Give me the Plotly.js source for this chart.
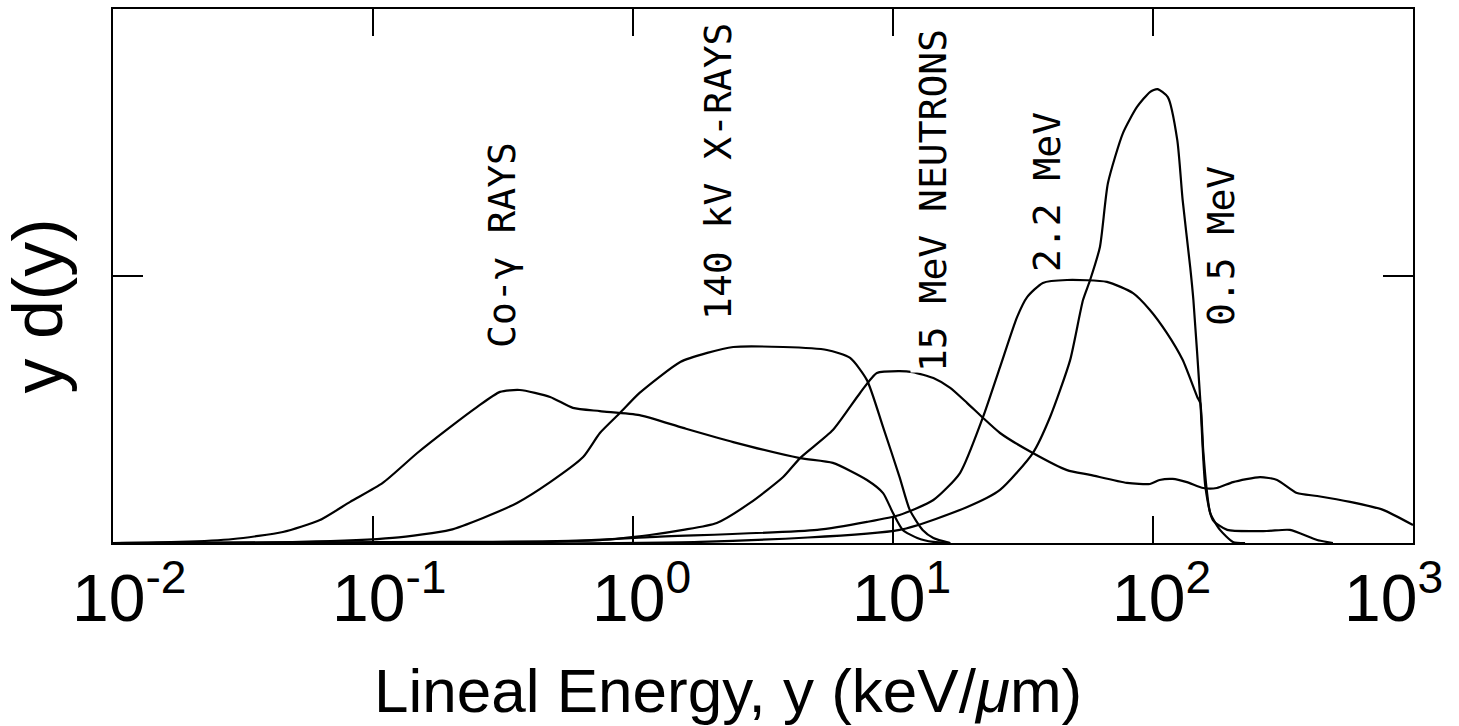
<!DOCTYPE html>
<html>
<head>
<meta charset="utf-8">
<script src="https://cdn.plot.ly/plotly-3.0.1.min.js"></script>
<style>
  html, body { margin: 0; padding: 0; background: #ffffff; }
  #chart { width: 1459px; height: 726px; }
</style>
</head>
<body>
<div id="chart"></div>
<script>
// ---- Data ----
// Lineal energy y (keV/um) and y d(y) in arbitrary units (frame top = 2, mid tick = 1)
const coGammaX = [0.01, 0.0181, 0.029, 0.045, 0.0625, 0.0817, 0.109, 0.148, 0.198, 0.251, 0.308, 0.367, 0.480, 0.587, 0.746, 1.06, 1.56, 2.43, 4.39, 5.87, 7.94, 9.16, 10.0, 10.9, 12.4, 14.3, 16.6];
const coGammaY = [0, 0.004, 0.015, 0.041, 0.086, 0.154, 0.225, 0.337, 0.434, 0.509, 0.566, 0.573, 0.547, 0.506, 0.494, 0.479, 0.431, 0.378, 0.318, 0.300, 0.236, 0.187, 0.112, 0.049, 0.019, 0.004, 0];

const xray140X = [0.01, 0.0524, 0.119, 0.198, 0.265, 0.358, 0.480, 0.643, 0.746, 0.891, 1.06, 1.52, 1.93, 2.43, 3.78, 5.57, 6.84, 7.94, 9.16, 10.6, 11.6, 13.0, 14.3, 16.6];
const xray140Y = [0, 0.004, 0.019, 0.049, 0.094, 0.150, 0.228, 0.322, 0.412, 0.487, 0.562, 0.678, 0.712, 0.734, 0.734, 0.723, 0.693, 0.610, 0.434, 0.247, 0.124, 0.049, 0.019, 0];

const neutron15X = [0.01, 0.198, 0.746, 1.16, 1.56, 2.10, 2.82, 3.78, 4.39, 5.87, 7.47, 8.67, 10.6, 11.9, 14.3, 16.6, 19.3, 22.0, 25.8, 34.5, 46.7, 57.3, 79.4, 97.3, 106, 119, 135, 156, 176, 203, 258, 300, 358, 428, 573, 767, 1000];
const neutron15Y = [0, 0.004, 0.011, 0.030, 0.049, 0.075, 0.150, 0.247, 0.318, 0.423, 0.562, 0.637, 0.644, 0.640, 0.618, 0.581, 0.524, 0.472, 0.412, 0.337, 0.273, 0.255, 0.225, 0.221, 0.236, 0.240, 0.228, 0.206, 0.206, 0.228, 0.247, 0.236, 0.187, 0.176, 0.154, 0.124, 0.067];

const mev22X = [0.01, 0.480, 1.16, 5.11, 7.94, 10.6, 14.3, 18.1, 22.2, 25.8, 30.0, 32.8, 37.7, 46.7, 66.5, 83.8, 97.3, 113, 130, 148, 152, 156, 161, 166, 181, 203, 226];
const mev22Y = [0, 0.004, 0.022, 0.049, 0.079, 0.105, 0.161, 0.262, 0.472, 0.659, 0.846, 0.921, 0.974, 0.985, 0.978, 0.936, 0.873, 0.787, 0.686, 0.547, 0.524, 0.348, 0.198, 0.112, 0.049, 0.004, 0];

const mev05X = [0.01, 1.81, 10.6, 19.3, 25.8, 34.5, 40.2, 48.0, 53.8, 57.3, 62.5, 67.1, 76.7, 86.8, 97.3, 104, 114, 124, 130, 139, 143, 152, 159, 170, 193, 274, 336, 428, 492];
const mev05Y = [0, 0.004, 0.049, 0.135, 0.199, 0.337, 0.472, 0.685, 0.910, 0.985, 1.109, 1.348, 1.536, 1.633, 1.689, 1.700, 1.670, 1.509, 1.285, 1.034, 0.910, 0.536, 0.210, 0.086, 0.049, 0.045, 0.049, 0.011, 0];

const tickVals = [0.01, 0.1, 1, 10, 100, 1000];
const tickText = ['10<sup>-2</sup>', '10<sup>-1</sup>', '10<sup>0</sup>', '10<sup>1</sup>', '10<sup>2</sup>', '10<sup>3</sup>'];

const curveLabels = ['Co-γ RAYS', '140 kV X-RAYS', '15 MeV NEUTRONS', '2.2 MeV', '0.5 MeV'];
const xTitle = 'Lineal Energy, y (keV/<i>μ</i>m)';
const yTitle = 'y d(y)';

// ---- Traces ----
const series = [[coGammaX, coGammaY], [xray140X, xray140Y], [neutron15X, neutron15Y], [mev22X, mev22Y], [mev05X, mev05Y]];
const traces = series.map((s, i) => ({
  x: s[0], y: s[1], type: 'scatter', mode: 'lines', name: curveLabels[i],
  line: {color: '#000000', width: 2.2, shape: 'spline', smoothing: 0.6},
  hoverinfo: 'skip'
}));

// ---- Annotations (layout) ----
const labelPos = [[0.2992, 0.558], [0.4654, 0.6948], [0.6308, 0.6404], [0.7185, 0.6573], [0.8523, 0.5562]];
const annotations = [];
curveLabels.forEach((t, i) => {
  annotations.push({
    text: t, xref: 'paper', yref: 'paper', x: labelPos[i][0], y: labelPos[i][1],
    xanchor: 'center', yanchor: 'middle', textangle: -90, showarrow: false,
    font: {family: 'DejaVu Sans Mono', size: 38, color: '#000000'},
    bgcolor: i === 2 ? '#ffffff' : 'rgba(0,0,0,0)', borderpad: 0
  });
});
tickVals.forEach((v, i) => {
  const last = i === tickVals.length - 1;
  annotations.push({
    text: tickText[i], xref: 'x', yref: 'paper', x: Math.log10(v), y: -0.094,
    xanchor: last ? 'right' : 'left', xshift: last ? 32 : -43, yanchor: 'middle',
    showarrow: false, font: {family: 'Liberation Sans', size: 66, color: '#000000'}
  });
});
annotations.push({
  text: xTitle, xref: 'paper', yref: 'paper', x: 0.473, y: -0.276,
  xanchor: 'center', yanchor: 'middle', showarrow: false,
  font: {family: 'Liberation Sans', size: 62, color: '#000000'}
});
annotations.push({
  text: yTitle, xref: 'paper', yref: 'paper', x: -0.058, y: 0.444,
  xanchor: 'center', yanchor: 'middle', textangle: -90, showarrow: false,
  font: {family: 'Liberation Sans', size: 70, color: '#000000'}
});

const layout = {
  width: 1459, height: 726,
  margin: {l: 113, r: 46, t: 9, b: 183, pad: 0},
  paper_bgcolor: '#ffffff', plot_bgcolor: '#ffffff',
  showlegend: false,
  xaxis: {
    type: 'log', range: [-2, 3], tickvals: tickVals, showticklabels: false,
    ticks: 'inside', ticklen: 27, tickwidth: 1.5, tickcolor: '#000000',
    showline: true, linecolor: '#000000', linewidth: 2, mirror: 'ticks',
    showgrid: false, zeroline: false, fixedrange: true
  },
  yaxis: {
    range: [0, 2], tickvals: [1], showticklabels: false,
    ticks: 'inside', ticklen: 30, tickwidth: 1.5, tickcolor: '#000000',
    showline: true, linecolor: '#000000', linewidth: 2, mirror: 'ticks',
    showgrid: false, zeroline: false, fixedrange: true
  },
  annotations: annotations
};

Plotly.newPlot('chart', traces, layout, {displayModeBar: false, staticPlot: true});
</script>
</body>
</html>
